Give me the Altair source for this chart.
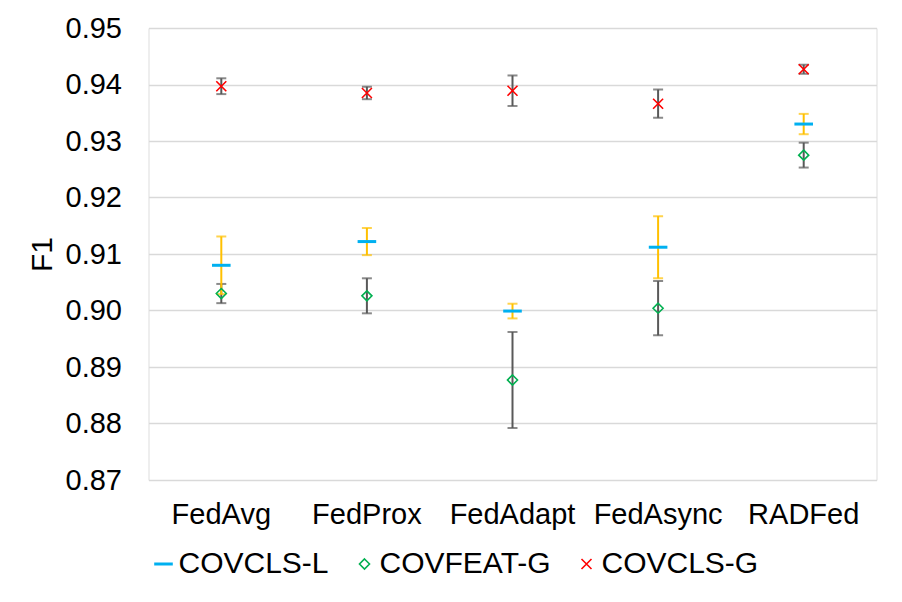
import altair as alt
import pandas as pd

categories = ["FedAvg", "FedProx", "FedAdapt", "FedAsync", "RADFed"]
series_names = ["COVCLS-L", "COVFEAT-G", "COVCLS-G"]

covcls_l = [0.9080, 0.9122, 0.8999, 0.9112, 0.9330]
covcls_l_err = [0.0051, 0.0024, 0.0013, 0.0055, 0.0018]
covfeat_g = [0.9030, 0.9026, 0.8877, 0.9004, 0.9275]
covfeat_g_err = [0.0017, 0.0031, 0.0085, 0.0048, 0.0022]
covcls_g = [0.9397, 0.9385, 0.9389, 0.9366, 0.9427]
covcls_g_err = [0.0014, 0.0011, 0.0027, 0.0025, 0.0008]

y_ticks = [0.87, 0.88, 0.89, 0.90, 0.91, 0.92, 0.93, 0.94, 0.95]

rows = []
for name, vals, errs in [
    ("COVCLS-L", covcls_l, covcls_l_err),
    ("COVFEAT-G", covfeat_g, covfeat_g_err),
    ("COVCLS-G", covcls_g, covcls_g_err),
]:
    for c, v, e in zip(categories, vals, errs):
        rows.append({"category": c, "series": name, "value": v,
                     "lo": v - e, "hi": v + e})
df = pd.DataFrame(rows)

FONT = "Liberation Sans"
FS = 29
LFS = 30

x_enc = alt.X("category:N", sort=categories, title=None,
              scale=alt.Scale(paddingInner=0, paddingOuter=0),
              axis=alt.Axis(labelAngle=0, labelFontSize=FS, labelFont=FONT,
                            labelColor="#000000", ticks=False, tickSize=0,
                            domain=False, labelPadding=20, grid=False))
y_scale = alt.Scale(domain=[0.87, 0.95], nice=False, zero=False)
y_enc = alt.Y("value:Q", scale=y_scale, title="F1",
              axis=alt.Axis(values=y_ticks, format=".2f", labelFontSize=FS,
                            labelFont=FONT, labelColor="#000000",
                            titleFontSize=LFS, titleFont=FONT,
                            titleFontWeight="normal", titleColor="#000000",
                            titlePadding=8, ticks=False, tickSize=0,
                            domain=False, labelPadding=27, grid=True,
                            gridColor="#D9D9D9", gridWidth=1.3))

base = alt.Chart(df)

yellow = "#FFC000"
gray = "#595959"

def err_layers(filt, col):
    b = base.transform_filter(filt)
    rule = b.mark_rule(strokeWidth=2, color=col).encode(
        x=x_enc, y=alt.Y("lo:Q", scale=y_scale), y2="hi:Q")
    cap_lo = b.mark_tick(thickness=2, size=10, color=col, orient="horizontal").encode(
        x=x_enc, y=alt.Y("lo:Q", scale=y_scale))
    cap_hi = b.mark_tick(thickness=2, size=10, color=col, orient="horizontal").encode(
        x=x_enc, y=alt.Y("hi:Q", scale=y_scale))
    return [rule, cap_lo, cap_hi]

gray_layers = err_layers(alt.datum.series != "COVCLS-L", gray)
yellow_layers = err_layers(alt.datum.series == "COVCLS-L", yellow)

dash_path = "M-1.7,-0.14L1.7,-0.14L1.7,0.14L-1.7,0.14Z"
diamond_path = "M0,-1L1,0L0,1L-1,0Z"
x_path = "M-1,-1L1,1M1,-1L-1,1"

legend_opts = dict(title=None, orient="none", direction="horizontal",
                   legendX=0, legendY=521,
                   labelFontSize=LFS, labelFont=FONT, labelLimit=400,
                   labelColor="#000000", symbolSize=100,
                   symbolStrokeWidth=1.6, labelOffset=0,
                   columnPadding=20)

points = base.mark_point(filled=False, strokeWidth=1.6, size=100, opacity=1).encode(
    x=x_enc,
    y=y_enc,
    color=alt.Color("series:N", sort=series_names,
                    scale=alt.Scale(domain=series_names,
                                    range=["#00B0F0", "#00B050", "#FF0000"]),
                    legend=alt.Legend(**legend_opts)),
    shape=alt.Shape("series:N", sort=series_names,
                    scale=alt.Scale(domain=series_names,
                                    range=[dash_path, diamond_path, x_path]),
                    legend=alt.Legend(**legend_opts)),
)

chart = alt.layer(*gray_layers, *yellow_layers, points).properties(
    width=728, height=452,
    autosize=alt.AutoSizeParams(type="none"),
    padding={"left": 140.5, "top": 20, "right": 16, "bottom": 110},
).configure_view(stroke="#D9D9D9", strokeWidth=1.3).configure(background="white")

chart.save("out.html", embed_options={"renderer": "svg", "actions": False})
